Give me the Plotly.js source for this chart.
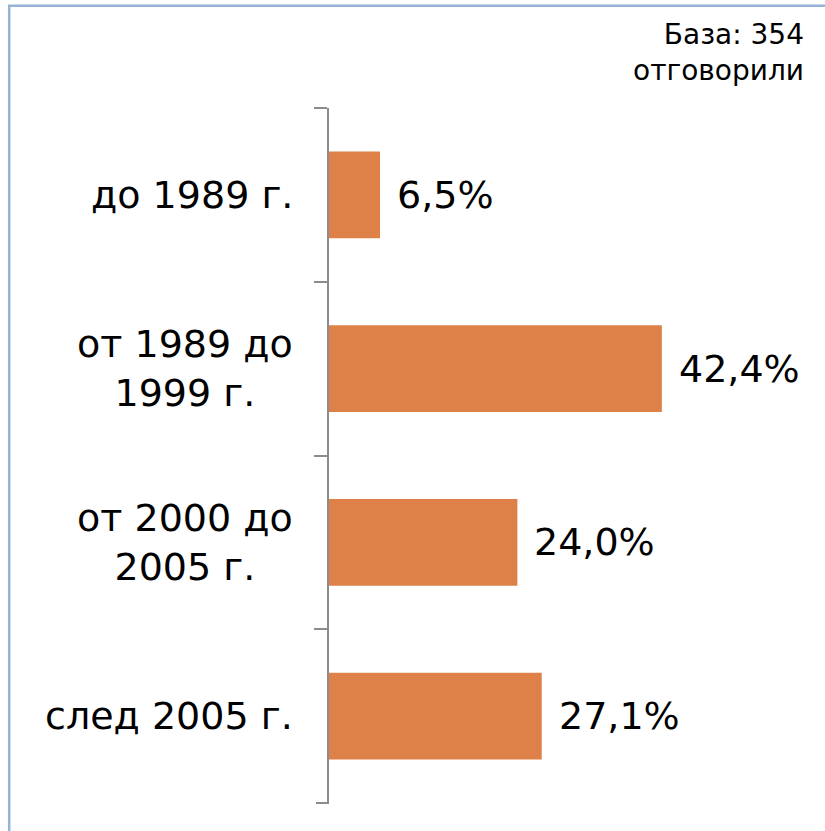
<!DOCTYPE html>
<html>
<head>
<meta charset="utf-8">
<script src="https://cdn.plot.ly/plotly-3.0.1.min.js"></script>
<style>
  html, body { margin: 0; padding: 0; background: #fff; }
  #chart { width: 825px; height: 831px; }
</style>
</head>
<body>
<div id="chart"></div>
<script>
// Data
var categories = ["до 1989 г.", "от 1989 до<br>1999 г.", "от 2000 до<br>2005 г.", "след 2005 г."];
var values = [6.5, 42.4, 24.0, 27.1];
var baseNote = "База: 354<br>отговорили";

var FONT = "DejaVu Sans, Verdana, sans-serif";
var BAR_COLOR = "#DE8148";

function fmt(v) { return v.toFixed(1).replace(".", ",") + "%"; }

var trace = {
  type: "bar",
  orientation: "h",
  x: values,
  y: categories,
  marker: { color: BAR_COLOR, line: { width: 0 } },
  hoverinfo: "none"
};

var annotations = [];
// category labels (centered lines, right-anchored block)
categories.forEach(function (c) {
  annotations.push({
    xref: "paper", yref: "y", x: -0.072, y: c,
    text: c, showarrow: false, xanchor: "right", yanchor: "middle", align: "center",
    font: { family: FONT, size: 38, color: "#000" }
  });
});
// value labels
values.forEach(function (v, i) {
  annotations.push({
    xref: "x", yref: "y", x: v, y: categories[i],
    text: fmt(v), showarrow: false, xanchor: "left", yanchor: "middle", xshift: 15,
    font: { family: FONT, size: 38, color: "#000" }
  });
});
// base note
annotations.push({
  xref: "paper", yref: "paper", x: 1.013, y: 1.132,
  text: baseNote, showarrow: false, xanchor: "right", yanchor: "top", align: "right",
  font: { family: FONT, size: 28, color: "#000" }
});

var layout = {
  width: 825, height: 831,
  margin: { l: 329, r: 25, t: 108, b: 28 },
  paper_bgcolor: "#fff", plot_bgcolor: "#fff",
  showlegend: false,
  bargap: 0.5,
  xaxis: {
    range: [0, 60], visible: false, fixedrange: true
  },
  yaxis: {
    type: "category",
    range: [3.5, -0.5],
    showline: true, linecolor: "#8C8C8C", linewidth: 2,
    ticks: "outside", tickson: "boundaries", ticklen: 13, tickwidth: 2, tickcolor: "#8C8C8C",
    showticklabels: false, showgrid: false, zeroline: false, fixedrange: true
  },
  annotations: annotations,
  shapes: [
    { type: "path", xref: "paper", yref: "paper",
      path: "M -0.679 -0.2 L -0.679 1.147 L 1.2 1.147",
      line: { color: "#95B3D7", width: 2.5 } },
    { type: "line", xref: "paper", yref: "paper", x0: -0.0276, x1: 0, y0: 0, y1: 0,
      line: { color: "#8C8C8C", width: 2 } }
  ]
};

Plotly.newPlot("chart", [trace], layout, { staticPlot: true, displayModeBar: false });
</script>
</body>
</html>
